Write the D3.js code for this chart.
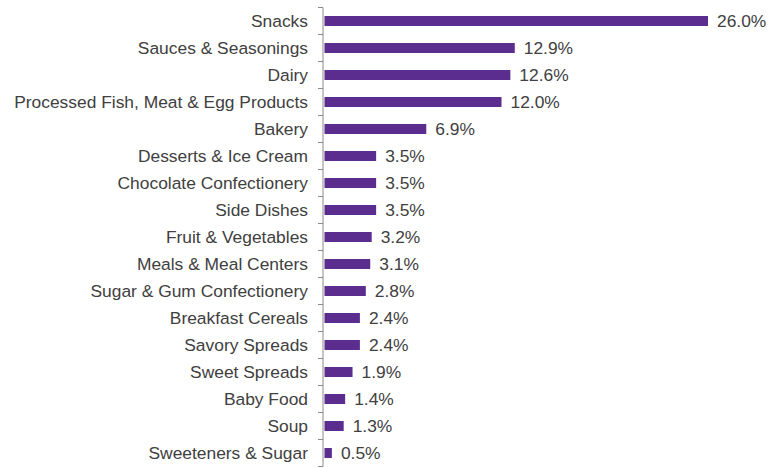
<!DOCTYPE html>
<html>
<head>
<meta charset="utf-8">
<script src="https://cdn.jsdelivr.net/npm/d3@7"></script>
<style>
  html, body { margin: 0; padding: 0; background: #fff; }
  svg { display: block; }
  text { font-family: "Liberation Sans", Arial, sans-serif; }
</style>
</head>
<body>
<svg id="chart" width="781" height="468"></svg>
<script>
// Share of new product launches by category (%)
const categories = [
  "Snacks", "Sauces & Seasonings", "Dairy", "Processed Fish, Meat & Egg Products",
  "Bakery", "Desserts & Ice Cream", "Chocolate Confectionery", "Side Dishes",
  "Fruit & Vegetables", "Meals & Meal Centers", "Sugar & Gum Confectionery",
  "Breakfast Cereals", "Savory Spreads", "Sweet Spreads", "Baby Food", "Soup",
  "Sweeteners & Sugar"
];
const values = [26.0, 12.9, 12.6, 12.0, 6.9, 3.5, 3.5, 3.5, 3.2, 3.1, 2.8, 2.4, 2.4, 1.9, 1.4, 1.3, 0.5];
const valueLabels = ["26.0%", "12.9%", "12.6%", "12.0%", "6.9%", "3.5%", "3.5%", "3.5%", "3.2%",
  "3.1%", "2.8%", "2.4%", "2.4%", "1.9%", "1.4%", "1.3%", "0.5%"];

const svg = d3.select("#chart");
const axisX = 323;
const barColor = "#5b2d8e";
const textColor = "#404040";
const fontSize = 17.4;

const x = d3.scaleLinear().domain([0, 26]).range([axisX + 1.5, 708]);
const y = d3.scaleBand().domain(categories).range([7.5, 466.5]).paddingInner(0.63).paddingOuter(0.315);

// category axis with tick marks at band boundaries
const axisG = svg.append("g");
axisG.append("line")
  .attr("x1", axisX).attr("x2", axisX)
  .attr("y1", y.range()[0]).attr("y2", y.range()[1])
  .attr("stroke", "#8a8a8a").attr("stroke-width", 1);
const step = y.step();
const boundaries = d3.range(categories.length + 1).map(i => y.range()[0] + i * step);
axisG.selectAll("line.tick").data(boundaries).join("line")
  .attr("class", "tick")
  .attr("x1", axisX - 5).attr("x2", axisX)
  .attr("y1", d => d).attr("y2", d => d)
  .attr("stroke", "#8a8a8a").attr("stroke-width", 1);

// bars
svg.selectAll("rect.bar").data(values).join("rect")
  .attr("class", "bar")
  .attr("x", x(0))
  .attr("y", (d, i) => y(categories[i]))
  .attr("width", d => x(d) - x(0))
  .attr("height", y.bandwidth())
  .attr("fill", barColor);

// category labels
svg.selectAll("text.cat").data(categories).join("text")
  .attr("class", "cat")
  .attr("x", 308)
  .attr("y", d => y(d) + y.bandwidth() / 2)
  .attr("dy", "0.35em")
  .attr("text-anchor", "end")
  .attr("font-size", fontSize)
  .attr("fill", textColor)
  .text(d => d);

// value labels
svg.selectAll("text.val").data(values).join("text")
  .attr("class", "val")
  .attr("x", d => x(d) + 9)
  .attr("y", (d, i) => y(categories[i]) + y.bandwidth() / 2)
  .attr("dy", "0.35em")
  .attr("font-size", fontSize)
  .attr("fill", textColor)
  .text((d, i) => valueLabels[i]);
</script>
</body>
</html>
